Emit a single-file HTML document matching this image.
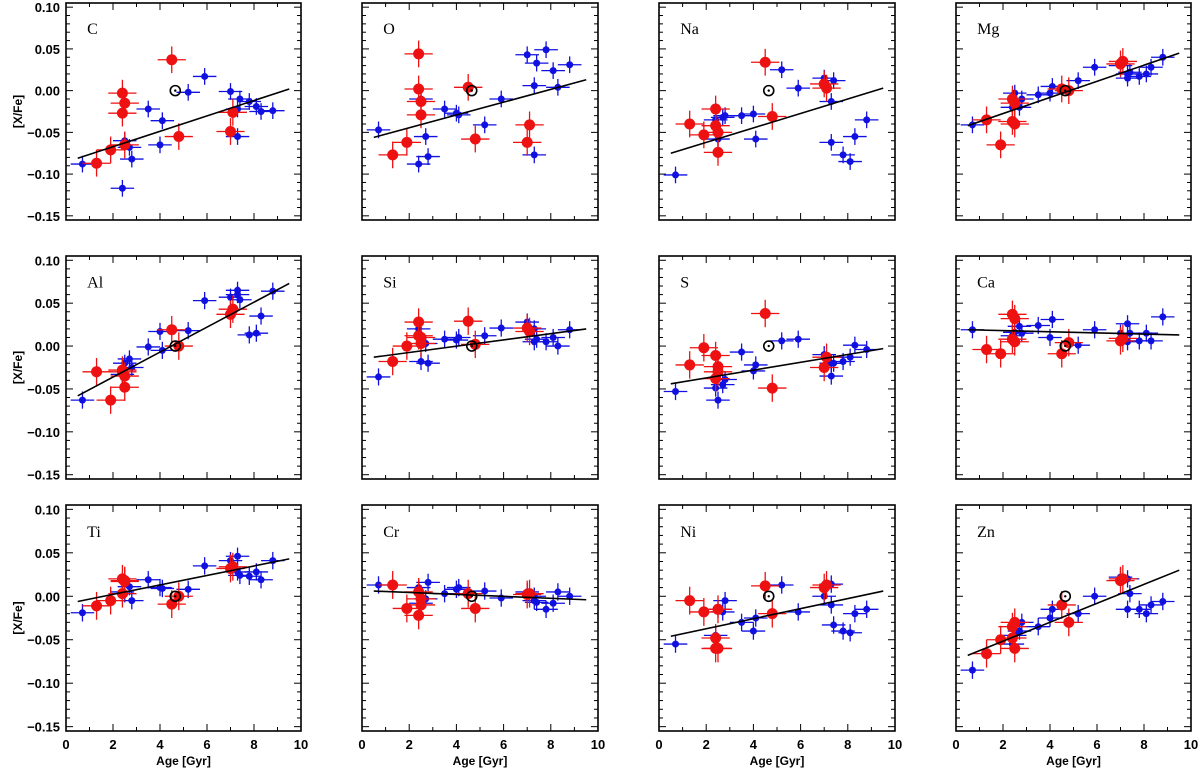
<!DOCTYPE html>
<html><head><meta charset="utf-8"><style>
html,body{margin:0;padding:0;background:#fff;}
svg{display:block;}
text{font-family:"Liberation Sans",sans-serif;}
</style></head><body>
<svg id="chart" width="1200" height="771" xmlns="http://www.w3.org/2000/svg"></svg>
<script>
const redAges = [1.3, 1.9, 2.4, 2.4, 2.5, 2.5, 4.5, 4.8, 7.0, 7.1];
const blueAges = [0.7, 2.4, 2.5, 2.7, 2.8, 3.5, 4.0, 4.1, 5.2, 5.9, 7.0, 7.3, 7.3, 7.4, 7.8, 8.1, 8.3, 8.8];
const elements = ["C","O","Na","Mg","Al","Si","S","Ca","Ti","Cr","Ni","Zn"];
const redC = [-0.087,-0.071,-0.003,-0.027,-0.015,-0.065,0.037,-0.055,-0.049,-0.026];
const blueC = [-0.088,-0.117,-0.060,-0.068,-0.082,-0.022,-0.065,-0.036,-0.002,0.017,-0.001,-0.022,-0.055,-0.010,-0.013,-0.019,-0.025,-0.024];
const redO = [-0.077,-0.062,0.044,0.002,-0.013,-0.029,0.004,-0.058,-0.062,-0.041];
const blueO = [-0.047,-0.088,-0.010,-0.055,-0.079,-0.022,-0.027,-0.029,-0.041,-0.010,0.043,0.006,-0.077,0.033,0.049,0.024,0.004,0.031];
const redNa = [-0.040,-0.053,-0.022,-0.042,-0.074,-0.050,0.034,-0.031,0.008,0.003];
const blueNa = [-0.101,-0.035,-0.058,-0.032,-0.030,-0.030,-0.028,-0.058,0.025,0.003,0.015,-0.013,-0.062,0.012,-0.077,-0.085,-0.055,-0.035];
const redMg = [-0.035,-0.065,-0.010,-0.037,-0.015,-0.040,0.002,0.000,0.032,0.035];
const blueMg = [-0.041,-0.020,-0.003,-0.020,-0.010,-0.005,-0.003,0.005,0.012,0.028,0.030,0.020,0.015,0.022,0.017,0.020,0.028,0.040];
const redAl = [-0.030,-0.063,-0.028,-0.030,-0.048,-0.035,0.019,0.000,0.037,0.043];
const blueAl = [-0.063,-0.033,-0.020,-0.015,-0.025,-0.001,0.017,-0.005,0.018,0.053,0.057,0.060,0.065,0.054,0.013,0.015,0.035,0.064];
const redSi = [-0.018,0.000,0.028,0.012,0.010,0.003,0.029,0.002,0.021,0.017];
const blueSi = [-0.036,0.020,-0.018,0.003,-0.020,0.008,0.007,0.010,0.012,0.021,0.028,0.020,0.005,0.008,0.005,0.010,0.000,0.019];
const redS = [-0.022,-0.002,-0.011,-0.038,-0.024,-0.030,0.038,-0.049,-0.025,-0.013];
const blueS = [-0.053,-0.049,-0.063,-0.045,-0.039,-0.007,-0.029,-0.022,0.006,0.008,-0.010,-0.035,-0.020,-0.020,-0.018,-0.013,0.001,-0.004];
const redCa = [-0.004,-0.009,0.037,0.008,0.032,0.005,-0.009,0.004,0.006,0.009];
const blueCa = [0.019,0.012,0.016,0.023,0.015,0.024,0.010,0.031,0.001,0.019,0.015,0.026,0.005,0.015,0.006,0.015,0.006,0.034];
const redTi = [-0.011,-0.005,0.003,0.020,0.018,0.017,-0.009,0.000,0.032,0.034];
const blueTi = [-0.019,0.005,0.003,0.011,-0.005,0.019,0.010,0.009,0.008,0.035,0.041,0.046,0.028,0.024,0.023,0.028,0.019,0.041];
const redCr = [0.013,-0.014,0.005,-0.022,-0.010,-0.003,0.003,-0.014,0.002,0.003];
const blueCr = [0.013,0.010,-0.008,-0.003,0.016,0.003,0.008,0.010,0.006,-0.002,0.005,-0.005,0.000,-0.007,-0.015,-0.008,0.005,0.000];
const redNi = [-0.005,-0.018,-0.048,-0.060,-0.060,-0.015,0.012,-0.020,0.010,0.013];
const blueNi = [-0.055,-0.045,-0.015,-0.018,-0.005,-0.030,-0.040,-0.025,0.013,-0.018,0.000,0.014,-0.010,-0.033,-0.040,-0.042,-0.020,-0.015];
const redZn = [-0.066,-0.050,-0.048,-0.035,-0.060,-0.030,-0.010,-0.030,0.018,0.020];
const blueZn = [-0.085,-0.055,-0.045,-0.040,-0.030,-0.035,-0.025,-0.015,-0.020,0.000,0.022,0.020,-0.015,0.003,-0.015,-0.020,-0.010,-0.006];
const fitStart = [-0.081,-0.056,-0.075,-0.042,-0.058,-0.013,-0.044,0.019,-0.006,0.006,-0.046,-0.068];
const fitEnd = [0.002,0.013,0.003,0.045,0.073,0.020,-0.003,0.013,0.043,-0.004,0.006,0.030];
const xTicks = [0,2,4,6,8,10];
const yTicks = [0.10,0.05,0.00,-0.05,-0.10,-0.15];
const redVals = [redC,redO,redNa,redMg,redAl,redSi,redS,redCa,redTi,redCr,redNi,redZn];
const blueVals = [blueC,blueO,blueNa,blueMg,blueAl,blueSi,blueS,blueCa,blueTi,blueCr,blueNi,blueZn];

const NS="http://www.w3.org/2000/svg";
const svg=document.getElementById('chart');
const colX=[[66,301],[362,598],[659,895],[956,1191]];
const rowY=[[3,220],[256,479],[505,731]];
const Y0=0.105, Y1=-0.155;
function mk(tag,attrs,parent){const e=document.createElementNS(NS,tag);for(const k in attrs)e.setAttribute(k,attrs[k]);(parent||svg).appendChild(e);return e;}

elements.forEach((el,i)=>{
  const c=i%4,r=Math.floor(i/4);
  const [xl,xr]=colX[c],[yt,yb]=rowY[r];
  const sx=v=>xl+(v/10)*(xr-xl);
  const sy=v=>yt+(Y0-v)/(Y0-Y1)*(yb-yt);
  const g=mk('g',{});
  
  
  // ticks
  for(let t=0;t<=10;t++){
    const L=(t%2===0)?7:4;
    const a=mk('line',{x1:sx(t),x2:sx(t),y1:yb,y2:yb-L,stroke:'#000','stroke-width':1},g);
    const b=mk('line',{x1:sx(t),x2:sx(t),y1:yt,y2:yt+L,stroke:'#000','stroke-width':1},g);
  }
  for(let k=-15;k<=10;k++){
    const v=k/100,L=(k%5===0)?7:4;
    mk('line',{x1:xl,x2:xl+L,y1:sy(v),y2:sy(v),stroke:'#000','stroke-width':1},g);
    mk('line',{x1:xr,x2:xr-L,y1:sy(v),y2:sy(v),stroke:'#000','stroke-width':1},g);
  }
  const fr=mk('rect',{x:xl,y:yt,width:xr-xl,height:yb-yt,fill:'none',stroke:'#000','stroke-width':1.6},g);
  
  
  if(c===0){
    yTicks.forEach(v=>{
      const t=mk('text',{x:xl-6,y:sy(v)+5,'text-anchor':'end','font-size':13,'font-weight':'bold'},g);
      t.textContent=(v<0?'\u2212':'')+Math.abs(v).toFixed(2);
      
      
    });
    const yl=mk('text',{x:0,y:0,transform:`translate(22,${(yt+yb)/2}) rotate(-90)`,'text-anchor':'middle','font-size':12,'font-weight':'bold'},g);
    yl.textContent='[X/Fe]';
    
    
  }
  if(r===2){
    xTicks.forEach(v=>{
      const t=mk('text',{x:sx(v),y:yb+18,'text-anchor':'middle','font-size':13,'font-weight':'bold'},g);
      t.textContent=String(v);
      
      
    });
    const xlb=mk('text',{x:(xl+xr)/2,y:yb+34,'text-anchor':'middle','font-size':12,'font-weight':'bold'},g);
    xlb.textContent='Age [Gyr]';
    
    
  }
  const lab=mk('text',{x:sx(0.9),y:sy(0.075)+6,'font-size':16,style:'font-family:"Liberation Serif",serif'},g);
  lab.textContent=el;
  
  
  // blue
  blueVals[i].forEach((v,j)=>{
    const a=blueAges[j];
    const col='#1010e0';
    mk('line',{x1:sx(a-0.5),x2:sx(a+0.5),y1:sy(v),y2:sy(v),stroke:col,'stroke-width':1.3},g);
    mk('line',{x1:sx(a),x2:sx(a),y1:sy(v-0.01),y2:sy(v+0.01),stroke:col,'stroke-width':1.3},g);
    const p=mk('circle',{cx:sx(a),cy:sy(v),r:3.5,fill:col},g);
    
    
  });
  // red
  redVals[i].forEach((v,j)=>{
    const a=redAges[j];
    const col='#ee1111';
    mk('line',{x1:sx(a-0.6),x2:sx(a+0.6),y1:sy(v),y2:sy(v),stroke:col,'stroke-width':1.3},g);
    mk('line',{x1:sx(a),x2:sx(a),y1:sy(v-0.016),y2:sy(v+0.016),stroke:col,'stroke-width':1.3},g);
    const p=mk('circle',{cx:sx(a),cy:sy(v),r:5.5,fill:col},g);
    
    
  });
  const fl=mk('line',{x1:sx(0.5),x2:sx(9.5),y1:sy(fitStart[i]),y2:sy(fitEnd[i]),stroke:'#000','stroke-width':1.6},g);
  
  
  const sun=mk('circle',{cx:sx(4.65),cy:sy(0),r:5,fill:'none',stroke:'#000','stroke-width':1.6},g);
  
  
  mk('circle',{cx:sx(4.65),cy:sy(0),r:1.2,fill:'#000'},g);
});
</script>
</body></html>
